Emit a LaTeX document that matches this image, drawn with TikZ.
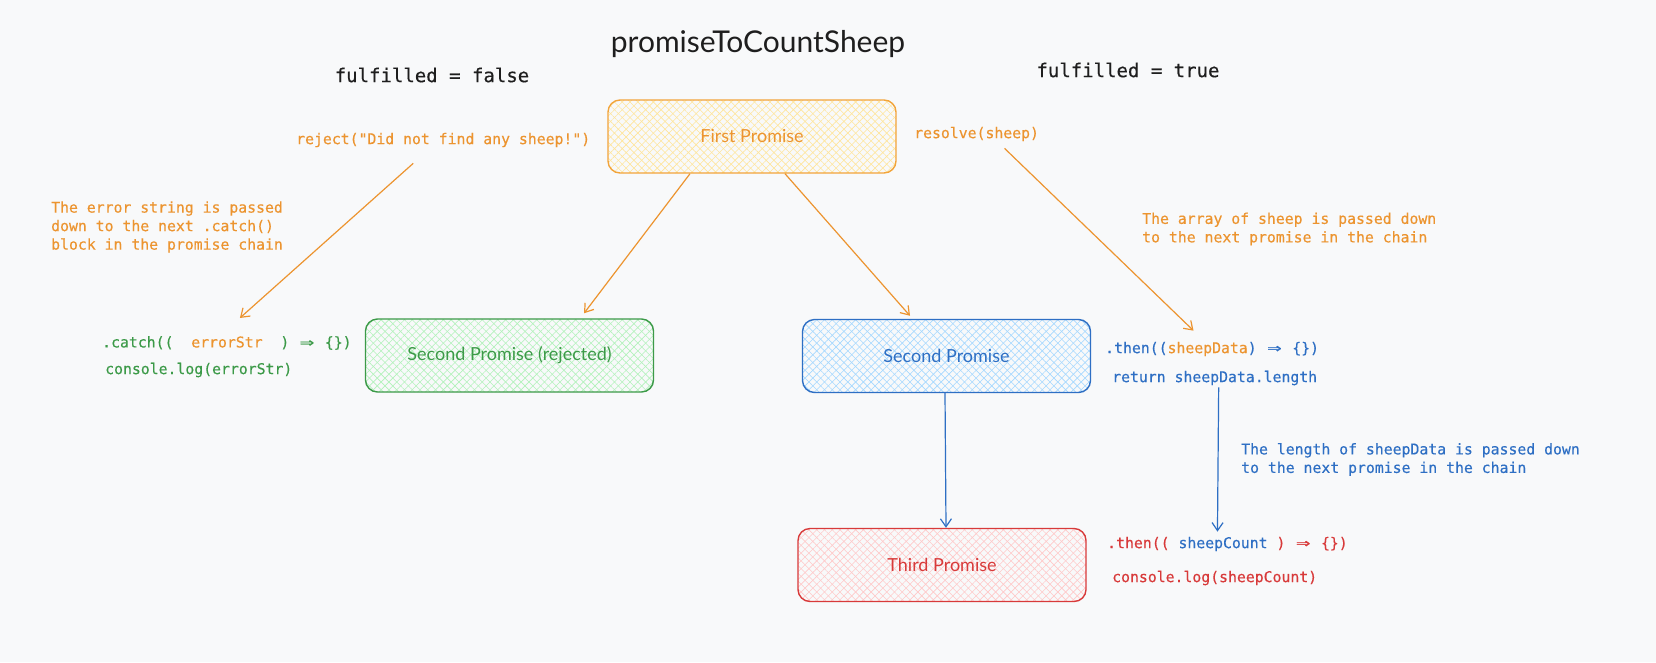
\documentclass[tikz,border=0pt]{standalone}
\usepackage{fontspec}
\setmainfont{Lato}
\newfontfamily\codefont[FakeBold=0.35]{DejaVu Sans Mono}
\usetikzlibrary{arrows.meta,patterns.meta,calc}
\definecolor{bg}{HTML}{F8F9FA}
\definecolor{ora}{HTML}{EC942F}
\definecolor{orabox}{HTML}{F2A43A}
\definecolor{grn}{HTML}{3C9A48}
\definecolor{blu}{HTML}{2E6FC4}
\definecolor{rd}{HTML}{D83A3A}
\definecolor{ink}{HTML}{1E1E1E}
\definecolor{hy}{HTML}{FFE59A}
\definecolor{hg}{HTML}{B2F2BB}
\definecolor{hb}{HTML}{A5D8FF}
\definecolor{hr}{HTML}{FFC9C9}
\newcommand\darr{\makebox[1.2em]{\scalebox{1.6}[1.1]{⇒}}}
\tikzset{
  pbox/.style 2 args={draw=#1, line width=1.4pt, rounded corners=12pt,
    minimum width=288pt, minimum height=73pt, inner sep=0pt,
    preaction={pattern={Lines[angle=45,distance=5.5pt,line width=0.6pt]}, pattern color=#2},
    preaction={pattern={Lines[angle=-45,distance=5.5pt,line width=0.6pt]}, pattern color=#2},
    font=\fontsize{18}{22}\selectfont},
  codetxt/.style={inner sep=0pt, anchor=west, align=left,
    font=\codefont\fontsize{14.8}{18.5}\selectfont},
  flow/.style={line width=1.2pt, -{Straight Barb[length=8pt,width=11pt]}},
}
\begin{document}
\begin{tikzpicture}[x=1pt,y=-1pt]
\useasboundingbox (0,0) rectangle (1656,662);
\fill[bg] (0,0) rectangle (1656,662);

\node[font=\fontsize{30}{36}\selectfont, text=ink] (title) at (758,44) {promiseToCountSheep};
\node[codetxt, anchor=center, text=ink, font=\codefont\fontsize{19}{23}\selectfont] (ff) at (432,75) {fulfilled = false};
\node[codetxt, anchor=center, text=ink, font=\codefont\fontsize{19}{23}\selectfont] (ft) at (1128,70) {fulfilled = true};

\node[pbox={orabox}{hy}, text=ora] (p1) at (752,136.5) {First Promise};
\node[pbox={grn}{hg}, text=grn] (p2r) at (509.5,355.5) {Second Promise (rejected)};
\node[pbox={blu}{hb}, text=blu] (p2) at (946.5,356) {Second Promise};
\node[pbox={rd}{hr}, text=rd] (p3) at (942,565) {Third Promise};

\node[codetxt, text=ora] (rej) at (296,140) {reject("Did not find any sheep!")};
\node[codetxt, text=ora] (res) at (914,134) {resolve(sheep)};
\node[codetxt, text=ora] (errnote) at (51,227) {The error string is passed\\down to the next .catch()\\block in the promise chain};
\node[codetxt, text=ora] (arrnote) at (1142,229) {The array of sheep is passed down\\to the next promise in the chain};
\node[codetxt, text=blu] (lennote) at (1241,459.5) {The length of sheepData is passed down\\to the next promise in the chain};

\node[codetxt, text=grn] (catch) at (102,343) {.catch((\ \ \textcolor{ora}{errorStr}\ \ ) \darr{} \{\})};
\node[codetxt, text=grn] (clog1) at (105,370) {console.log(errorStr)};
\node[codetxt, text=blu] (then1) at (1105,349) {.then((\textcolor{ora}{sheepData}) \darr{} \{\})};
\node[codetxt, text=blu] (ret) at (1112,378) {return sheepData.length};
\node[codetxt, text=rd] (then2) at (1107,544) {.then((\ \textcolor{blu}{sheepCount}\ ) \darr{} \{\})};
\node[codetxt, text=rd] (clog2) at (1112,578) {console.log(sheepCount)};

\draw[flow, ora] ($(rej.south)+(-30,16)$) -- ($(catch.north)+(13,-18)$);
\draw[flow, ora] ($(p1.south)+(-62,0)$) -- ($(p2r.north)+(74.5,-5)$);
\draw[flow, ora] ($(p1.south)+(33,0)$) -- ($(p2.north)+(-36.5,-3)$);
\draw[flow, ora] ($(res.south)+(28,7)$) -- ($(then1.north)+(-18.6,-11)$);
\draw[flow, blu] ($(p2.south)+(-1.5,0)$) -- ($(p3.north)+(4,0)$);
\draw[flow, blu] ($(ret.south)+(4,2)$) -- ($(then2.north)+(-10,-5)$);
\end{tikzpicture}
\end{document}
